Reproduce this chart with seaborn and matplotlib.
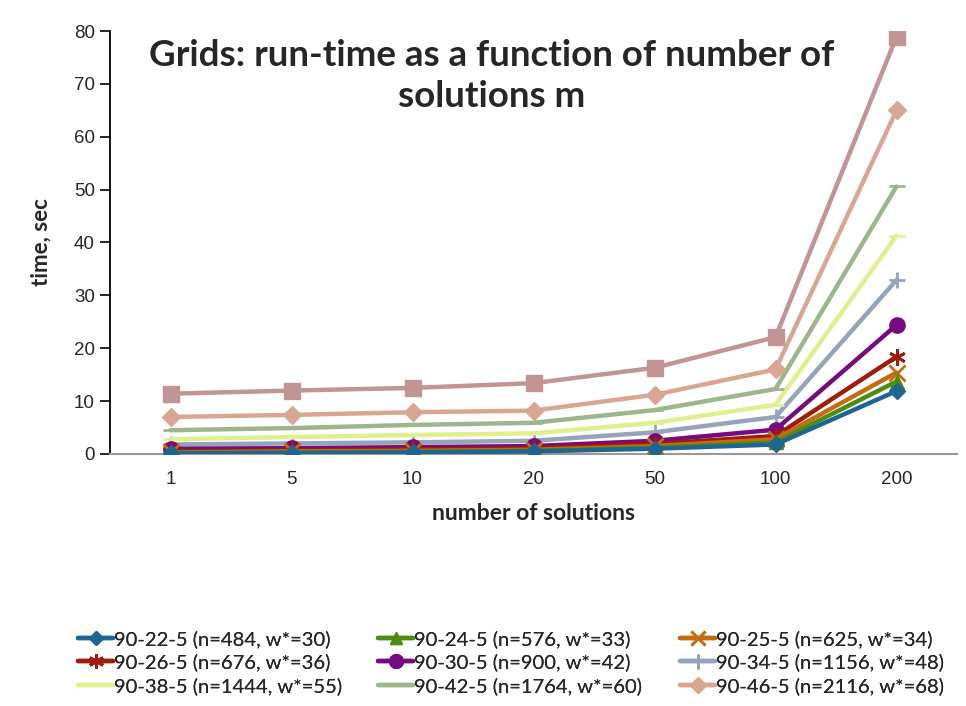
import numpy as np
import pandas as pd
import matplotlib
matplotlib.use("Agg")
import matplotlib.pyplot as plt
import seaborn as sns

categories = ["1", "5", "10", "20", "50", "100", "200"]

series_names = [
    "90-22-5 (n=484, w*=30)",
    "90-24-5 (n=576, w*=33)",
    "90-25-5 (n=625, w*=34)",
    "90-26-5 (n=676, w*=36)",
    "90-30-5 (n=900, w*=42)",
    "90-34-5 (n=1156, w*=48)",
    "90-38-5 (n=1444, w*=55)",
    "90-42-5 (n=1764, w*=60)",
    "90-46-5 (n=2116, w*=68)",
    "90-50-5",
]

s22 = [0.1, 0.2, 0.3, 0.5, 1.0, 1.8, 11.9]
s24 = [0.2, 0.3, 0.4, 0.6, 1.2, 2.2, 13.7]
s25 = [0.3, 0.5, 0.6, 0.8, 1.5, 2.8, 15.4]
s26 = [0.5, 0.7, 0.9, 1.1, 1.9, 3.4, 18.4]
s30 = [1.0, 1.1, 1.3, 1.5, 2.5, 4.6, 24.4]
s34 = [1.8, 2.0, 2.2, 2.5, 4.1, 7.0, 32.9]
s38 = [2.8, 3.2, 3.6, 3.9, 5.9, 9.3, 41.3]
s42 = [4.5, 4.9, 5.5, 5.9, 8.3, 12.3, 50.6]
s46 = [7.0, 7.4, 7.9, 8.2, 11.2, 16.0, 65.0]
s50 = [11.4, 12.0, 12.5, 13.4, 16.3, 22.1, 78.9]

values = [s22, s24, s25, s26, s30, s34, s38, s42, s46, s50]

colors = ["#1F6591", "#4E8B0F", "#C56C12", "#9F1B0B", "#750B7F",
          "#95A4BA", "#E0F08F", "#9DB78C", "#D9A692", "#C29494"]
markers = ["D", "^", "x", (6, 2, 0), "o", "+", "_", "_", "D", "s"]
msizes = [8, 10, 11, 12, 11, 12, 11, 11, 9, 11]

rows = []
for name, vals in zip(series_names, values):
    for i, (c, v) in enumerate(zip(categories, vals)):
        rows.append({"series": name, "cat": c, "pos": i + 0.5, "time": v})
df = pd.DataFrame(rows)

sns.set_style("white")
plt.rcParams["font.family"] = ["Lato", "DejaVu Sans"]

fig = plt.figure(figsize=(9.66, 7.06), dpi=100)
ax = fig.add_axes([110 / 966, 1 - 454 / 706, (957 - 110) / 966, (454 - 31) / 706])

handles = []
for i, name in enumerate(series_names):
    sub = df[df["series"] == name]
    thin = markers[i] in ("x", "+", "_") or isinstance(markers[i], tuple)
    sns.lineplot(data=sub, x="pos", y="time", ax=ax, color=colors[i],
                 linewidth=3.2, marker=markers[i], markersize=msizes[i],
                 markeredgecolor=colors[i], markeredgewidth=2.0 if thin else 1,
                 label=name, legend=False, zorder=10 - i if i < 5 else 3)
    handles.append(ax.get_lines()[-1])

ax.set_xlim(0, len(categories))
ax.set_ylim(0, 80)
ax.set_yticks(np.arange(0, 81, 10))
ax.set_xticks(np.arange(len(categories)) + 0.5)
ax.set_xticklabels(categories)
ax.set_xticks(np.arange(len(categories) + 1), minor=True)
ax.tick_params(axis="x", which="major", length=0, labelsize=13.5, pad=12)
ax.tick_params(axis="x", which="minor", length=6, width=1.2, color="#999999", direction="out")
ax.tick_params(axis="y", length=7, width=1.2, color="black", direction="out", labelsize=13.5, pad=4, left=True)
for lab in ax.get_xticklabels() + ax.get_yticklabels():
    lab.set_family(["Liberation Sans", "DejaVu Sans"])

for s in ["top", "right"]:
    ax.spines[s].set_visible(False)
ax.spines["left"].set_color("black")
ax.spines["left"].set_linewidth(1.3)
ax.spines["bottom"].set_color("#999999")
ax.spines["bottom"].set_linewidth(1.5)

ax.set_xlabel("number of solutions", fontsize=16.5, fontweight="bold", labelpad=11)
ax.set_ylabel("time, sec", fontsize=16, fontweight="bold", labelpad=16)

fig.text(492 / 966, 1 - 76 / 706, "Grids: run-time as a function of number of\nsolutions m",
         ha="center", va="center", fontsize=26.5, fontweight="bold", linespacing=1.3)

col_x = [78, 378, 680]
for c in range(3):
    idx = [c, c + 3, c + 6]
    lg = fig.legend([handles[k] for k in idx], [series_names[k] for k in idx],
                    loc="upper left", bbox_to_anchor=(col_x[c] / 966, 1 - 630 / 706),
                    frameon=False, fontsize=14.5, handlelength=1.75, handletextpad=0.05,
                    labelspacing=0.28, markerscale=0.9, borderpad=0, borderaxespad=0)
    fig.add_artist(lg)

fig.savefig("out.png", dpi=100)
